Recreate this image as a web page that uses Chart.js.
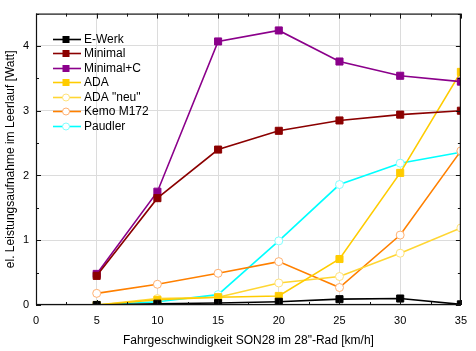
<!DOCTYPE html>
<html><head><meta charset="utf-8">
<script src="https://cdn.jsdelivr.net/npm/chart.js@4/dist/chart.umd.min.js"></script>
<style>html,body{margin:0;padding:0;background:#fff}canvas{display:block}</style>
</head><body>
<canvas id="c" width="476" height="351"></canvas>
<script>
const speeds = [5, 10, 15, 20, 25, 30, 35];
const eWerk     = [0.0, 0.02, 0.03, 0.05, 0.09, 0.10, 0.01];
const minimal   = [0.45, 1.65, 2.40, 2.69, 2.85, 2.94, 3.00];
const minimalC  = [0.48, 1.75, 4.07, 4.24, 3.76, 3.54, 3.45];
const ada       = [0.0, 0.08, 0.12, 0.14, 0.71, 2.04, 3.60];
const adaNeu    = [0.0, 0.10, 0.12, 0.34, 0.44, 0.80, 1.19];
const kemo      = [0.18, 0.32, 0.49, 0.67, 0.27, 1.08, 2.38];
const paudler   = [0.0, 0.05, 0.16, 0.99, 1.86, 2.19, 2.36];
const seriesNames = ['E-Werk', 'Minimal', 'Minimal+C', 'ADA', 'ADA "neu"', 'Kemo M172', 'Paudler'];
const xTitle = 'Fahrgeschwindigkeit SON28 im 28"-Rad [km/h]';
const yTitle = 'el. Leistungsaufnahme im Leerlauf [Watt]';

const styles = [
  {c:'#000000', pb:'#000000', pf:'#000000', ps:'rect'},
  {c:'#8b0000', pb:'#8b0000', pf:'#8b0000', ps:'rect'},
  {c:'#8b008b', pb:'#8b008b', pf:'#8b008b', ps:'rect'},
  {c:'#ffcc00', pb:'#ffcc00', pf:'#ffcc00', ps:'rect'},
  {c:'#ffd633', pb:'#ffe27a', pf:'#ffffff', ps:'circle'},
  {c:'#ff8000', pb:'#ffb070', pf:'#ffffff', ps:'circle'},
  {c:'#00ffff', pb:'#80ffff', pf:'#ffffff', ps:'circle'}
];
const values = [eWerk, minimal, minimalC, ada, adaNeu, kemo, paudler];

const datasets = values.map((v, i) => ({
  label: seriesNames[i],
  data: speeds.map((s, j) => ({x: s, y: v[j]})),
  borderColor: styles[i].c,
  backgroundColor: styles[i].pf,
  pointBorderColor: styles[i].pb,
  pointBackgroundColor: styles[i].pf,
  pointStyle: styles[i].ps,
  pointRadius: styles[i].ps === 'rect' ? 5 : 4,
  pointBorderWidth: 1,
  borderWidth: 1.6,
  tension: 0
}));

const framePlugin = {
  id: 'frame',
  afterDatasetsDraw(chart) {
    const ctx = chart.ctx, a = chart.chartArea;
    const xs = chart.scales.x, ys = chart.scales.y;
    ctx.save();
    ctx.strokeStyle = '#111';
    ctx.lineWidth = 1.2;
    ctx.strokeRect(a.left + 0.5, a.top + 0.5, a.right - a.left - 1, a.bottom - a.top - 1);
    ctx.lineWidth = 1;
    ctx.beginPath();
    for (let v = 0; v <= 35; v += 2.5) {
      const px = Math.round(xs.getPixelForValue(v)) + 0.5;
      const len = (v % 5 === 0) ? 5 : 3;
      ctx.moveTo(px, a.bottom); ctx.lineTo(px, a.bottom - len);
      ctx.moveTo(px, a.top); ctx.lineTo(px, a.top + len);
    }
    for (let v = 0; v <= 4.5; v += 0.5) {
      const py = Math.round(ys.getPixelForValue(v)) + 0.5;
      const len = (Math.abs(v - Math.round(v)) < 1e-6) ? 5 : 3;
      ctx.moveTo(a.left, py); ctx.lineTo(a.left + len, py);
      ctx.moveTo(a.right, py); ctx.lineTo(a.right - len, py);
    }
    ctx.stroke();
    // legend
    ctx.font = '12px "Liberation Sans", Arial, sans-serif';
    ctx.textBaseline = 'middle';
    ctx.textAlign = 'left';
    seriesNames.forEach((name, i) => {
      const y = Math.round(39 + i * 14.45) + 0.5;
      const st = styles[i];
      ctx.strokeStyle = st.c;
      ctx.lineWidth = 1.6;
      ctx.beginPath(); ctx.moveTo(53, y); ctx.lineTo(81, y); ctx.stroke();
      ctx.lineWidth = 1;
      ctx.strokeStyle = st.pb;
      ctx.fillStyle = st.pf;
      if (st.ps === 'rect') {
        ctx.fillRect(62.5, y - 3.5, 7, 7);
      } else {
        ctx.beginPath(); ctx.arc(66, y, 3.5, 0, Math.PI * 2); ctx.fill(); ctx.stroke();
      }
      ctx.fillStyle = '#000';
      ctx.fillText(name, 84, y + 0.5);
    });
    ctx.restore();
  }
};

new Chart(document.getElementById('c'), {
  type: 'line',
  data: { datasets },
  options: {
    responsive: false,
    animation: false,
    layout: { padding: { top: 5, right: 10, left: 0, bottom: 0 } },
    plugins: { legend: { display: false }, tooltip: { enabled: false } },
    scales: {
      x: {
        type: 'linear', min: 0, max: 35,
        ticks: { stepSize: 5, color: '#000', padding: 9, font: { size: 11, family: '"Liberation Sans", Arial, sans-serif' } },
        grid: { color: '#dcdcdc', drawTicks: false },
        border: { display: false },
        title: { display: true, text: xTitle, color: '#000', padding: { top: 0, bottom: 3 }, font: { size: 12, family: '"Liberation Sans", Arial, sans-serif' } },
        afterFit(s) { s.height = 46; }
      },
      y: {
        type: 'linear', min: 0, max: 4.5,
        afterBuildTicks(s) { s.ticks = [0,1,2,3,4].map(v => ({value: v})); },
        ticks: { color: '#000', padding: 7, font: { size: 11, family: '"Liberation Sans", Arial, sans-serif' } },
        grid: { color: '#dcdcdc', drawTicks: false },
        border: { display: false },
        title: { display: true, text: yTitle, color: '#000', padding: { top: 3, bottom: 0 }, font: { size: 12, family: '"Liberation Sans", Arial, sans-serif' } },
        afterFit(s) { s.width = 36; }
      }
    }
  },
  plugins: [framePlugin]
});
</script>
</body></html>
